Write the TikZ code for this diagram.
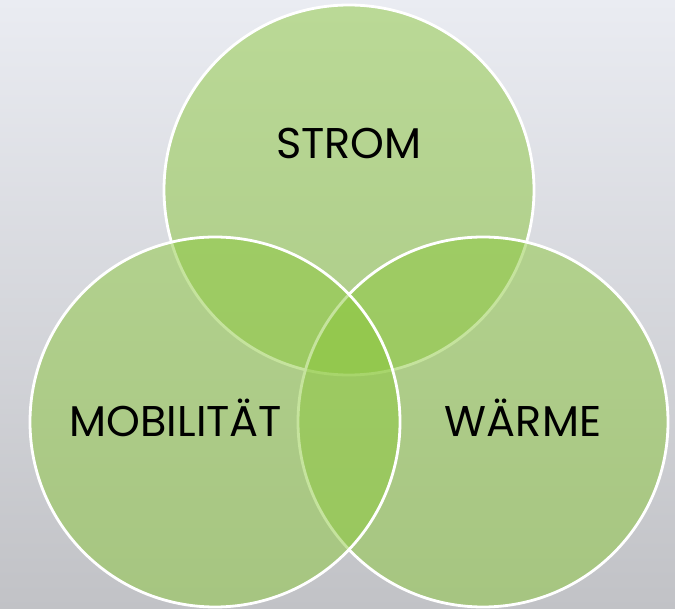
\documentclass[tikz,border=0pt]{standalone}
\usepackage{fontspec}
\setmainfont{Poppins}

\definecolor{bgtop}{RGB}{234,236,242}
\definecolor{bgbot}{RGB}{193,194,198}
\definecolor{venngreen}{RGB}{140,200,60}

\begin{document}
\begin{tikzpicture}[x=1pt, y=-1pt,
  venn/.style={circle, draw=white, line width=2.8pt, fill=venngreen,
    fill opacity=0.5, minimum size=370pt, inner sep=0pt},
  lbl/.style={anchor=base, text=black, font=\fontsize{43}{48}\selectfont}]
% backdrop
\shade[top color=bgtop, bottom color=bgbot] (0,0) rectangle (675,609);
% the three circles, the last one drawn lies on top
\node[venn] (strom) at (349,190) {};
\node[venn] (waerme) at (483,422) {};
\node[venn] (mobil) at (215,422) {};
% labels
\node[lbl] (tstrom) at (349,159) {STROM};
\node[lbl] (tmobil) at (176,437) {MOBILITÄT};
\node[lbl] (twaerme) at (523,437) {WÄRME};
\end{tikzpicture}
\end{document}
